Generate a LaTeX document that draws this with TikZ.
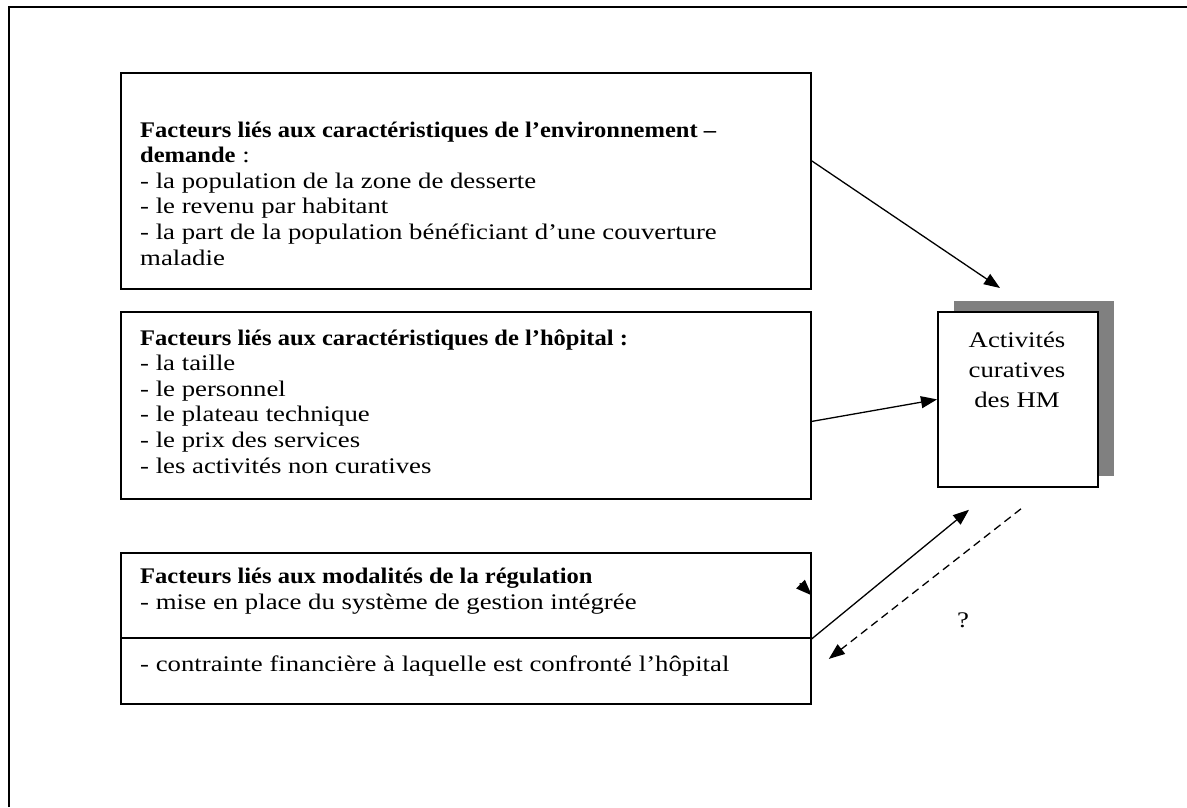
\documentclass[tikz,border=0pt]{standalone}
\usepackage{fontspec}
\setmainfont{Liberation Serif}[FakeStretch=1.2, BoldFeatures={FakeStretch=1.1}]
\usetikzlibrary{arrows.meta, positioning, calc, shadows}

\begin{document}
\begin{tikzpicture}[
  x=1pt, y=-1pt,
  box/.style={rectangle, draw=black, line width=1.8pt, anchor=north west, inner sep=0pt},
  txt/.style={anchor=base west, align=left, inner sep=0pt, font=\fontsize{22.3}{25.6}\selectfont},
  link/.style={-{Triangle[length=16pt, width=12pt]}, line width=1.3pt},
  doubt/.style={link, dash pattern=on 8pt off 5pt}
]
  \useasboundingbox (0,0) rectangle (1187,807);
  \draw[line width=2pt] (9,807) -- (9,7) -- (1187,7);

  % Factor boxes
  \node[box, minimum width=690pt, minimum height=216pt] (env)  at (120,72)  {};
  \node[box, minimum width=690pt, minimum height=187pt] (hosp) at (120,311) {};
  \node[box, minimum width=690pt, minimum height=85pt]  (regA) at (120,552) {};
  \node[box, minimum width=690pt, minimum height=66pt]  (regB) at (120,637) {};

  % texts sit on the baseline of their last line
  \node[txt] (envtxt) at (140,265) {\textbf{Facteurs liés aux caractéristiques de l’environnement –}\\
    \textbf{demande} :\\
    - la population de la zone de desserte\\
    - le revenu par habitant\\
    - la part de la population bénéficiant d’une couverture\\
    maladie};
  \node[txt] (hosptxt) at (140,473) {\textbf{Facteurs liés aux caractéristiques de l’hôpital :}\\
    - la taille\\
    - le personnel\\
    - le plateau technique\\
    - le prix des services\\
    - les activités non curatives};
  \node[txt] (regAtxt) at (140,609) {\textbf{Facteurs liés aux modalités de la régulation}\\
    - mise en place du système de gestion intégrée};
  \node[txt] (regBtxt) at (140,671) {- contrainte financière à laquelle est confronté l’hôpital};

  % Activity box
  \node[box, fill=white, minimum width=160pt, minimum height=175pt,
        drop shadow={shadow xshift=16pt, shadow yshift=11pt, fill=black!50, opacity=1}] (hm) at (937,311) {};
  \node[txt, anchor=base, align=center, font=\fontsize{22.3}{30}\selectfont] (hmtxt) at (1017,407) {Activités\\curatives\\des HM};

  \coordinate (hmtop) at ($(hm.north west)+(63,-23)$);
  \coordinate (hmlow) at ($(hm.south west)+(32,22)$);
  \coordinate (hmdash) at ($(hm.south west)+(84,21)$);
  \coordinate (regback) at ($(regB.east)+(17,-12)$);
  \coordinate (regin) at ($(regA.east)+(-12,-12)$);

  \draw[link] ($(env.east)+(0,-20)$) -- (hmtop);
  \draw[link] ($(hosp.east)+(0,16)$) -- (hm.west);
  \draw[link] (regA.south east) -- (hmlow);
  \draw[doubt] (hmdash) -- (regback);
  \draw[link] (regin) -- (regA.east);

  \node[txt, anchor=center] (ask) at (963,620) {?};
\end{tikzpicture}
\end{document}
